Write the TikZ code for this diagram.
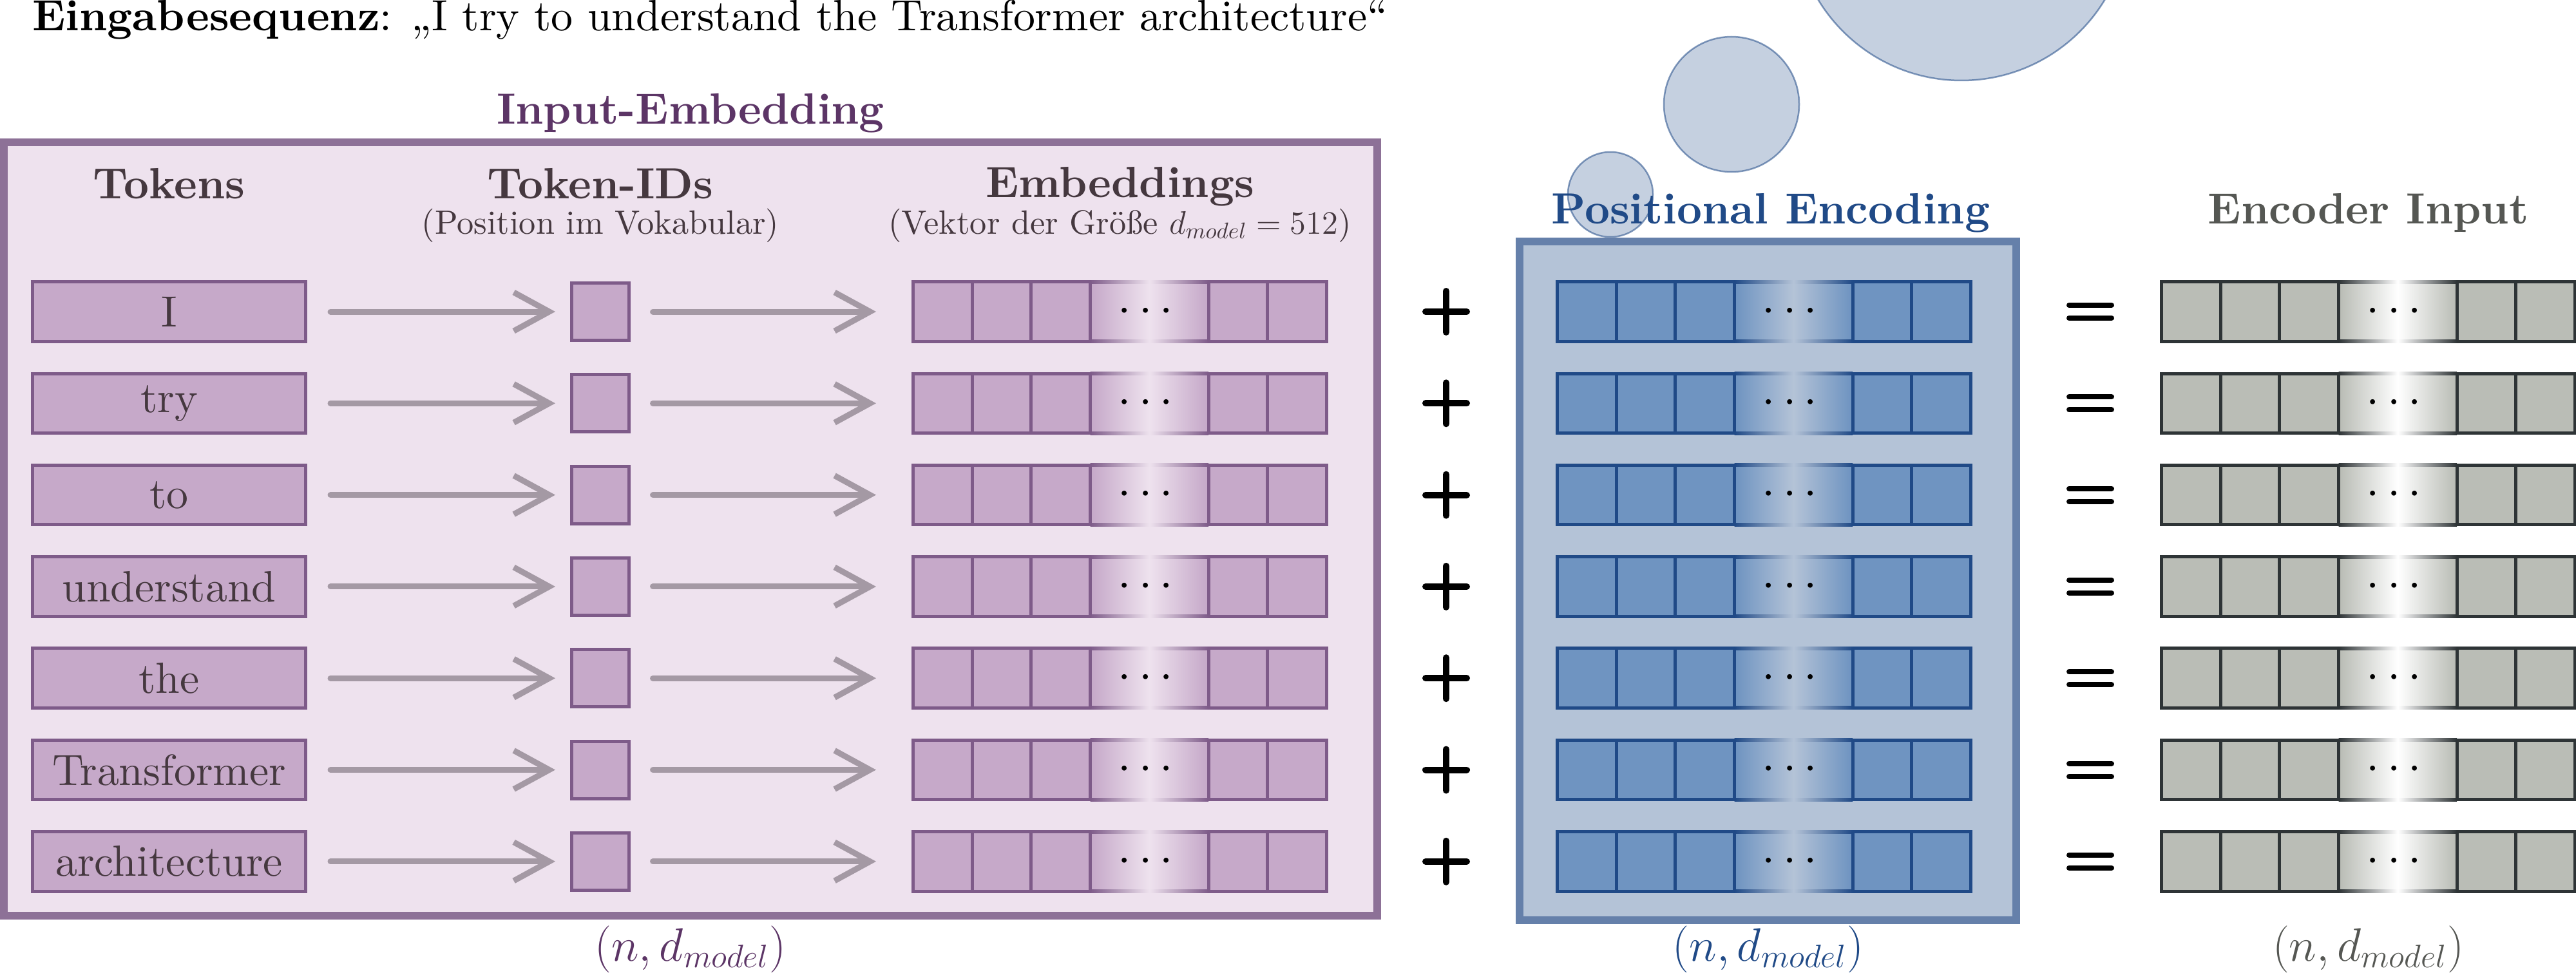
\documentclass[tikz,border=0pt]{standalone}
\usepackage{amsmath,amssymb}
\usepackage{fontspec}
\setmainfont{lmroman10-regular}[Extension=.otf, BoldFont=lmroman10-bold, ItalicFont=lmroman10-italic, BoldItalicFont=lmroman10-bolditalic]
\usepackage{tikz}
\usetikzlibrary{
	arrows.meta,
	calc}

\definecolor{embframe}{HTML}{8D7197}
\definecolor{embbg}{HTML}{EEE2EE}
\definecolor{embfill}{HTML}{C6A9C9}
\definecolor{embdraw}{HTML}{7E5B89}
\definecolor{embtext}{HTML}{45383F}
\definecolor{embtitle}{HTML}{5C3566}
\definecolor{arrowgray}{HTML}{A499A4}
\definecolor{posframe}{HTML}{6580AA}
\definecolor{posbg}{HTML}{B4C3D7}
\definecolor{posfill}{HTML}{6F94C1}
\definecolor{posdraw}{HTML}{204A87}
\definecolor{encfill}{HTML}{BABDB6}
\definecolor{encdraw}{HTML}{2E3436}
\definecolor{enctext}{HTML}{555753}

\newcommand\lblsize{\fontsize{19.3}{23}\selectfont}
\newcommand\subsize{\fontsize{14.9}{18}\selectfont}

\begin{document}
\begin{tikzpicture}[
    tokbox/.style={draw=embdraw, fill=embfill, line width=0.05cm, minimum width=4.24cm, minimum height=0.925cm, inner sep=0pt, text=embtext, font=\lblsize},
    idbox/.style={draw=embdraw, fill=embfill, line width=0.05cm, minimum width=0.89cm, minimum height=0.89cm, inner sep=0pt},
    vecbox/.style={line width=0.05cm, minimum width=6.42cm, minimum height=0.925cm, inner sep=0pt},
    idarrow/.style={draw=arrowgray, line width=0.09cm, line cap=round, -{Straight Barb[length=0.55cm,width=0.6cm]}},
    colhead/.style={anchor=base, inner sep=0pt, font=\lblsize\bfseries},
    colsub/.style={anchor=base, inner sep=0pt, font=\subsize, text=embtext},
    dimlabel/.style={anchor=base, inner sep=0pt, font=\lblsize},
    plussign/.style={minimum size=0.64cm, inner sep=0pt, outer sep=0pt},
    eqsign/.style={minimum width=0.66cm, minimum height=0.20cm, inner sep=0pt, outer sep=0pt},
    opline/.style={line cap=round},
    bubble/.style={circle, fill=posdraw, fill opacity=0.26, draw=posdraw, draw opacity=0.55, line width=0.025cm, inner sep=0pt}
  ]
      \useasboundingbox (0,0) rectangle (39.99,-15.10);

      % frames
      \node (inemb) [draw=embframe, fill=embbg, line width=0.12cm, minimum width=21.32cm, minimum height=12.01cm, inner sep=0pt] at (10.72,-8.215) {};
      \node (posenc) [draw=posframe, fill=posbg, line width=0.12cm, minimum width=7.71cm, minimum height=10.54cm, inner sep=0pt] at (27.445,-9.02) {};

      \node (title) [anchor=base west, inner sep=0pt, font=\lblsize] at (0.50,-0.48) {\textbf{Eingabesequenz}: „I try to understand the Transformer architecture“};

      \node[colhead, text=embtitle] (embtitle) at (10.72,-1.93) {Input-Embedding};
      \node[colhead, text=embtext] (tokhead) at (2.625,-3.08) {Tokens};
      \node[colhead, text=embtext] (idhead) at (9.32,-3.08) {Token-IDs};
      \node[colsub] (idsub) at (9.32,-3.63) {(Position im Vokabular)};
      \node[colhead, text=embtext] (embhead) at (17.385,-3.06) {Embeddings};
      \node[colsub] (embsub) at (17.385,-3.63) {(Vektor der Größe $d_{model} = 512$)};
      \node[colhead, text=posdraw] (poshead) at (27.49,-3.47) {Positional Encoding};
      \node[colhead, text=enctext] (enchead) at (36.765,-3.47) {Encoder Input};

      % rows
      \foreach \k/\tok in {1/I, 2/try, 3/to, 4/understand, 5/the, 6/Transformer, 7/architecture} {
        \pgfmathsetmacro\y{-4.84-1.423*(\k-1)}
        \node[tokbox] (tok\k) at (2.625,\y) {\tok};
        \node[idbox] (id\k) at (9.32,\y) {};
        \foreach \vx/\vf/\vd/\vm/\vn in {14.175/embfill/embdraw/embbg/emb, 24.175/posfill/posdraw/posbg/pos, 33.555/encfill/encdraw/white/enc} {
          \node[vecbox, draw=\vd, fill=\vf] (\vn\k) at (\vx+3.21,\y) {};
          \shade[left color=\vf, right color=\vf, middle color=\vm] (\vx+2.776,\y+0.4375) rectangle (\vx+4.56,\y-0.4375);
          \shade[left color=\vd, right color=\vd, middle color=\vm] (\vx+2.751,\y+0.4875) rectangle (\vx+4.585,\y+0.4375);
          \shade[left color=\vd, right color=\vd, middle color=\vm] (\vx+2.751,\y-0.4375) rectangle (\vx+4.585,\y-0.4875);
          \foreach \c in {1,2,3,5,6}
            \draw[\vd, line width=0.05cm] (\vx+\c*0.917,\y+0.4625) -- (\vx+\c*0.917,\y-0.4625);
          \node[inner sep=0pt, font=\lblsize] (\vn dots\k) at (\vx+3.668,\y) {$\cdots$};
        }
        \draw[idarrow, shorten <=0.36cm, shorten >=0.23cm] (tok\k) -- (id\k);
        \draw[idarrow, shorten <=0.345cm, shorten >=0.55cm] (id\k) -- (emb\k);

        \node[plussign] (plus\k) at (22.45,\y) {};
        \draw[opline, line width=0.10cm] (plus\k.north) -- (plus\k.south) (plus\k.west) -- (plus\k.east);
        \node[eqsign] (eq\k) at (32.45,\y) {};
        \draw[opline, line width=0.08cm] (eq\k.north west) -- (eq\k.north east) (eq\k.south west) -- (eq\k.south east);
      }

      \node[dimlabel, text=embtitle] (embdim) at (10.72,-14.92) {$(n, d_{model})$};
      \node[dimlabel, text=posdraw] (posdim) at (27.45,-14.92) {$(n, d_{model})$};
      \node[dimlabel, text=enctext] (encdim) at (36.765,-14.92) {$(n, d_{model})$};

      % thought bubbles
      \node[bubble, minimum size=1.32cm] (bub1) at (25.00,-3.02) {};
      \node[bubble, minimum size=2.10cm] (bub2) at (26.88,-1.62) {};
      \node[bubble, minimum size=5.20cm] (bub3) at (30.45,1.35) {};
  \end{tikzpicture}
\end{document}
